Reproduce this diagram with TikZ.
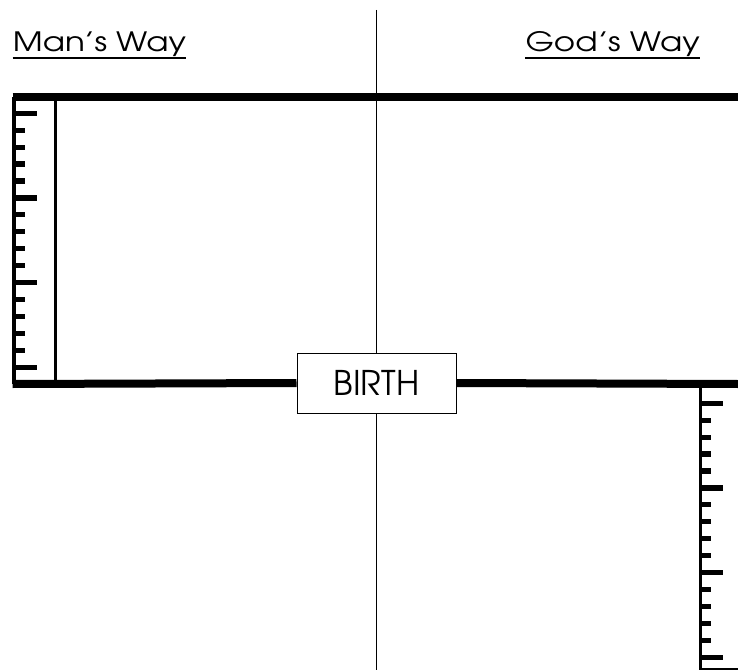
\documentclass[tikz,border=0pt]{standalone}
\usepackage{fontspec}
\setmainfont{TeX Gyre Adventor}
\newfontfamily\wayfont[FakeStretch=1.22]{TeX Gyre Adventor}
\usetikzlibrary{positioning}
\tikzset{heavy line/.style={line width=6pt}}
\tikzset{rule line/.style={line width=1.6pt}}
\tikzset{tick mark/.style={line width=3.9pt}}
\tikzset{way node/.style={inner sep=0pt,font=\wayfont\fontsize{20}{24}\selectfont}}
\tikzset{birth node/.style={rectangle,draw,fill=white,line width=0.75pt,minimum width=119.25pt,minimum height=45pt,inner sep=0pt,font=\fontsize{25.5}{30}\selectfont}}

\begin{document}
\begin{tikzpicture}[x=0.75pt,y=-0.75pt]
    \useasboundingbox (0,0) rectangle (738,670);

    % divider
    \coordinate (top) at (376.7,10);
    \coordinate (bottom) at (376.7,670);
    \draw[line width=1.1pt] (top) -- (bottom);

    % headings
    \node[way node,anchor=base west] (man) at (12.7,51.7) {Man’s Way};
    \node[way node,anchor=base east] (god) at (700,51.7) {God’s Way};
    \draw[line width=1.3pt] ([yshift=-4.5pt]man.base west) -- ([yshift=-4.5pt]man.base east);
    \draw[line width=1.3pt] ([yshift=-4.5pt]god.base west) -- ([yshift=-4.5pt]god.base east);

    % main lines
    \coordinate (tl) at (12.7,97.5);
    \coordinate (tr) at (738,97.5);
    \coordinate (ml) at (12.7,384);
    \coordinate (mr) at (738,384);
    \draw[heavy line] (tl) -- (tr);
    \node[birth node] (birth) at (376.5,383) {BIRTH};
    \draw[heavy line] (ml) -- (birth.west);
    \draw[heavy line] (birth.east) -- (mr);

    % left ruler
    \draw[line width=2.4pt] (14,97.5) -- (14,384);
    \draw[rule line] (55.5,97.5) -- (55.5,384);
    \foreach \i in {0,...,15}{
        \pgfmathsetmacro\len{mod(\i,5)==0 ? 24 : 12}
        \draw[tick mark] (13,113.3+\i*16.93) -- ++(\len,0);
    }

    % right ruler
    \coordinate (rb) at (700.5,669);
    \draw[rule line] (700.5,384) -- (rb) -- (738,669);
    \foreach \i in {0,...,15}{
        \pgfmathsetmacro\len{mod(\i,5)==0 ? 23 : 11}
        \draw[tick mark] (700,403.3+\i*16.93) -- ++(\len,0);
    }
\end{tikzpicture}
\end{document}
